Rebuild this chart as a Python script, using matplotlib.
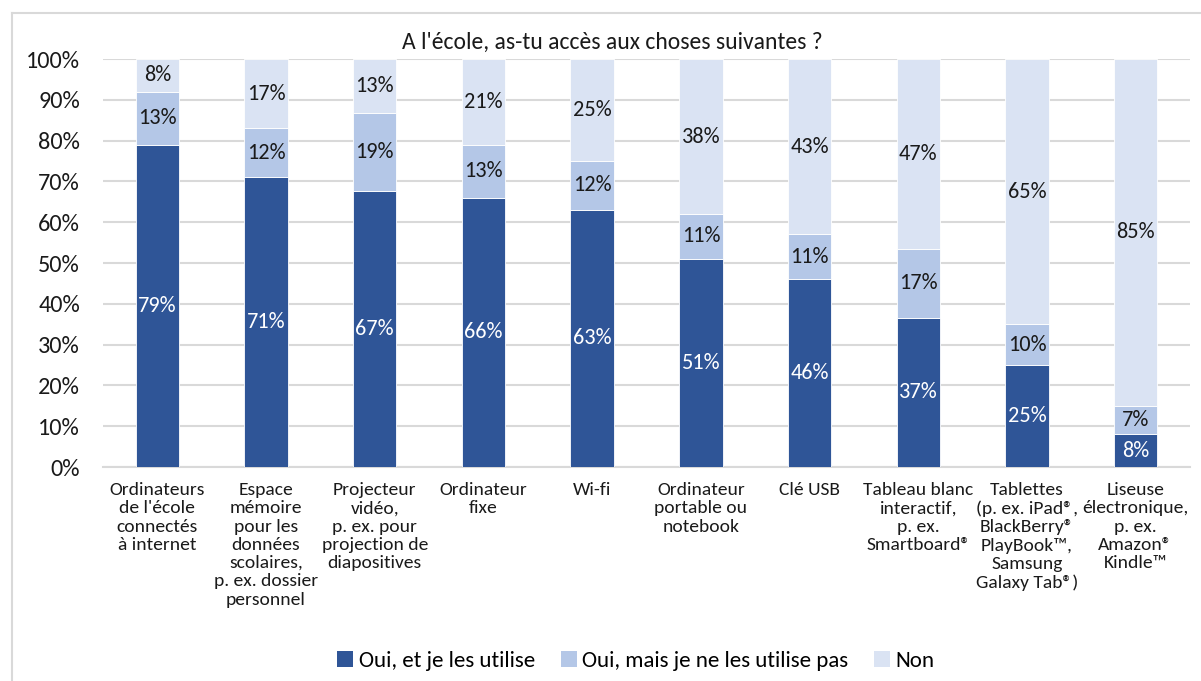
import matplotlib
matplotlib.use("Agg")
import matplotlib.pyplot as plt
from matplotlib.lines import Line2D
from matplotlib.patches import Patch
import numpy as np

plt.rcParams['font.family'] = ['Carlito', 'Lato', 'DejaVu Sans']

categories = [
    "Ordinateurs\nde l'école\nconnectés\nà internet",
    "Espace\nmémoire\npour les\ndonnées\nscolaires,\np. ex. dossier\npersonnel",
    "Projecteur\nvidéo,\np. ex. pour\nprojection de\ndiapositives",
    "Ordinateur\nfixe",
    "Wi-fi",
    "Ordinateur\nportable ou\nnotebook",
    "Clé USB",
    "Tableau blanc\ninteractif,\np. ex.\nSmartboard®",
    "Tablettes\n(p. ex. iPad®,\nBlackBerry®\nPlayBook™,\nSamsung\nGalaxy Tab®)",
    "Liseuse\nélectronique,\np. ex.\nAmazon®\nKindle™",
]
oui_utilise = [79, 71, 67, 66, 63, 51, 46, 37, 25, 8]
oui_pas = [13, 12, 19, 13, 12, 11, 11, 17, 10, 7]
non = [8, 17, 13, 21, 25, 38, 43, 47, 65, 85]
series_names = ["Oui, et je les utilise", "Oui, mais je ne les utilise pas", "Non"]
title = "A l'école, as-tu accès aux choses suivantes ?"

colors = ["#2F5597", "#B4C7E7", "#DAE3F3"]
text_colors = ["white", "#1a1a1a", "#1a1a1a"]

data = np.array([oui_utilise, oui_pas, non], dtype=float)
norm = data / data.sum(axis=0) * 100

fig = plt.figure(figsize=(12.01, 6.81), dpi=100)
ax = fig.add_axes([103 / 1201, 1 - 467 / 681, (1190 - 103) / 1201, (467 - 59) / 681])

x = np.arange(len(categories))
bottom = np.zeros(len(categories))
for i in range(3):
    ax.bar(x, norm[i], 0.4, bottom=bottom, color=colors[i], edgecolor="white", linewidth=0.6,
           zorder=3, label=series_names[i])
    for j in range(len(categories)):
        ax.text(x[j], bottom[j] + norm[i][j] / 2, f"{int(data[i][j])}%", ha="center", va="center",
                color=text_colors[i], fontsize=16, zorder=4)
    bottom += norm[i]

ax.set_xlim(-0.5, len(categories) - 0.5)
ax.set_ylim(0, 100)
ax.set_yticks(np.arange(0, 101, 10))
ax.set_yticklabels([f"{v}%" for v in range(0, 101, 10)], fontsize=17.5, color="#1a1a1a")
ax.set_xticks(x)
ax.set_xticklabels(categories, fontsize=14, color="#1a1a1a", va="top", linespacing=1.17)
ax.tick_params(axis="both", length=0)
ax.tick_params(axis="x", pad=11)
ax.tick_params(axis="y", pad=16.5)
ax.yaxis.grid(True, color="#D9D9D9", linewidth=1.5, zorder=0)
for s in ["top", "right", "left"]:
    ax.spines[s].set_visible(False)
ax.spines["bottom"].set_color("#D9D9D9")
ax.spines["bottom"].set_linewidth(1.5)

fig.text(612 / 1201, 1 - 42 / 681, title, ha="center", va="center", fontsize=17, color="#1a1a1a")

handles = [Patch(facecolor=c, edgecolor="none") for c in colors]
fig.legend(handles, series_names, loc="center", bbox_to_anchor=(636 / 1201, 1 - 661 / 681),
           ncol=3, frameon=False, fontsize=16.5, handlelength=0.7, handleheight=0.7,
           handletextpad=0.25, columnspacing=1.1)

fig.add_artist(Line2D([11.5 / 1201, 11.5 / 1201], [0, 1 - 13 / 681], color="#D9D9D9", linewidth=1.5))
fig.add_artist(Line2D([11.5 / 1201, 1], [1 - 13 / 681, 1 - 13 / 681], color="#D9D9D9", linewidth=1.5))

fig.savefig("out.png", dpi=100)
